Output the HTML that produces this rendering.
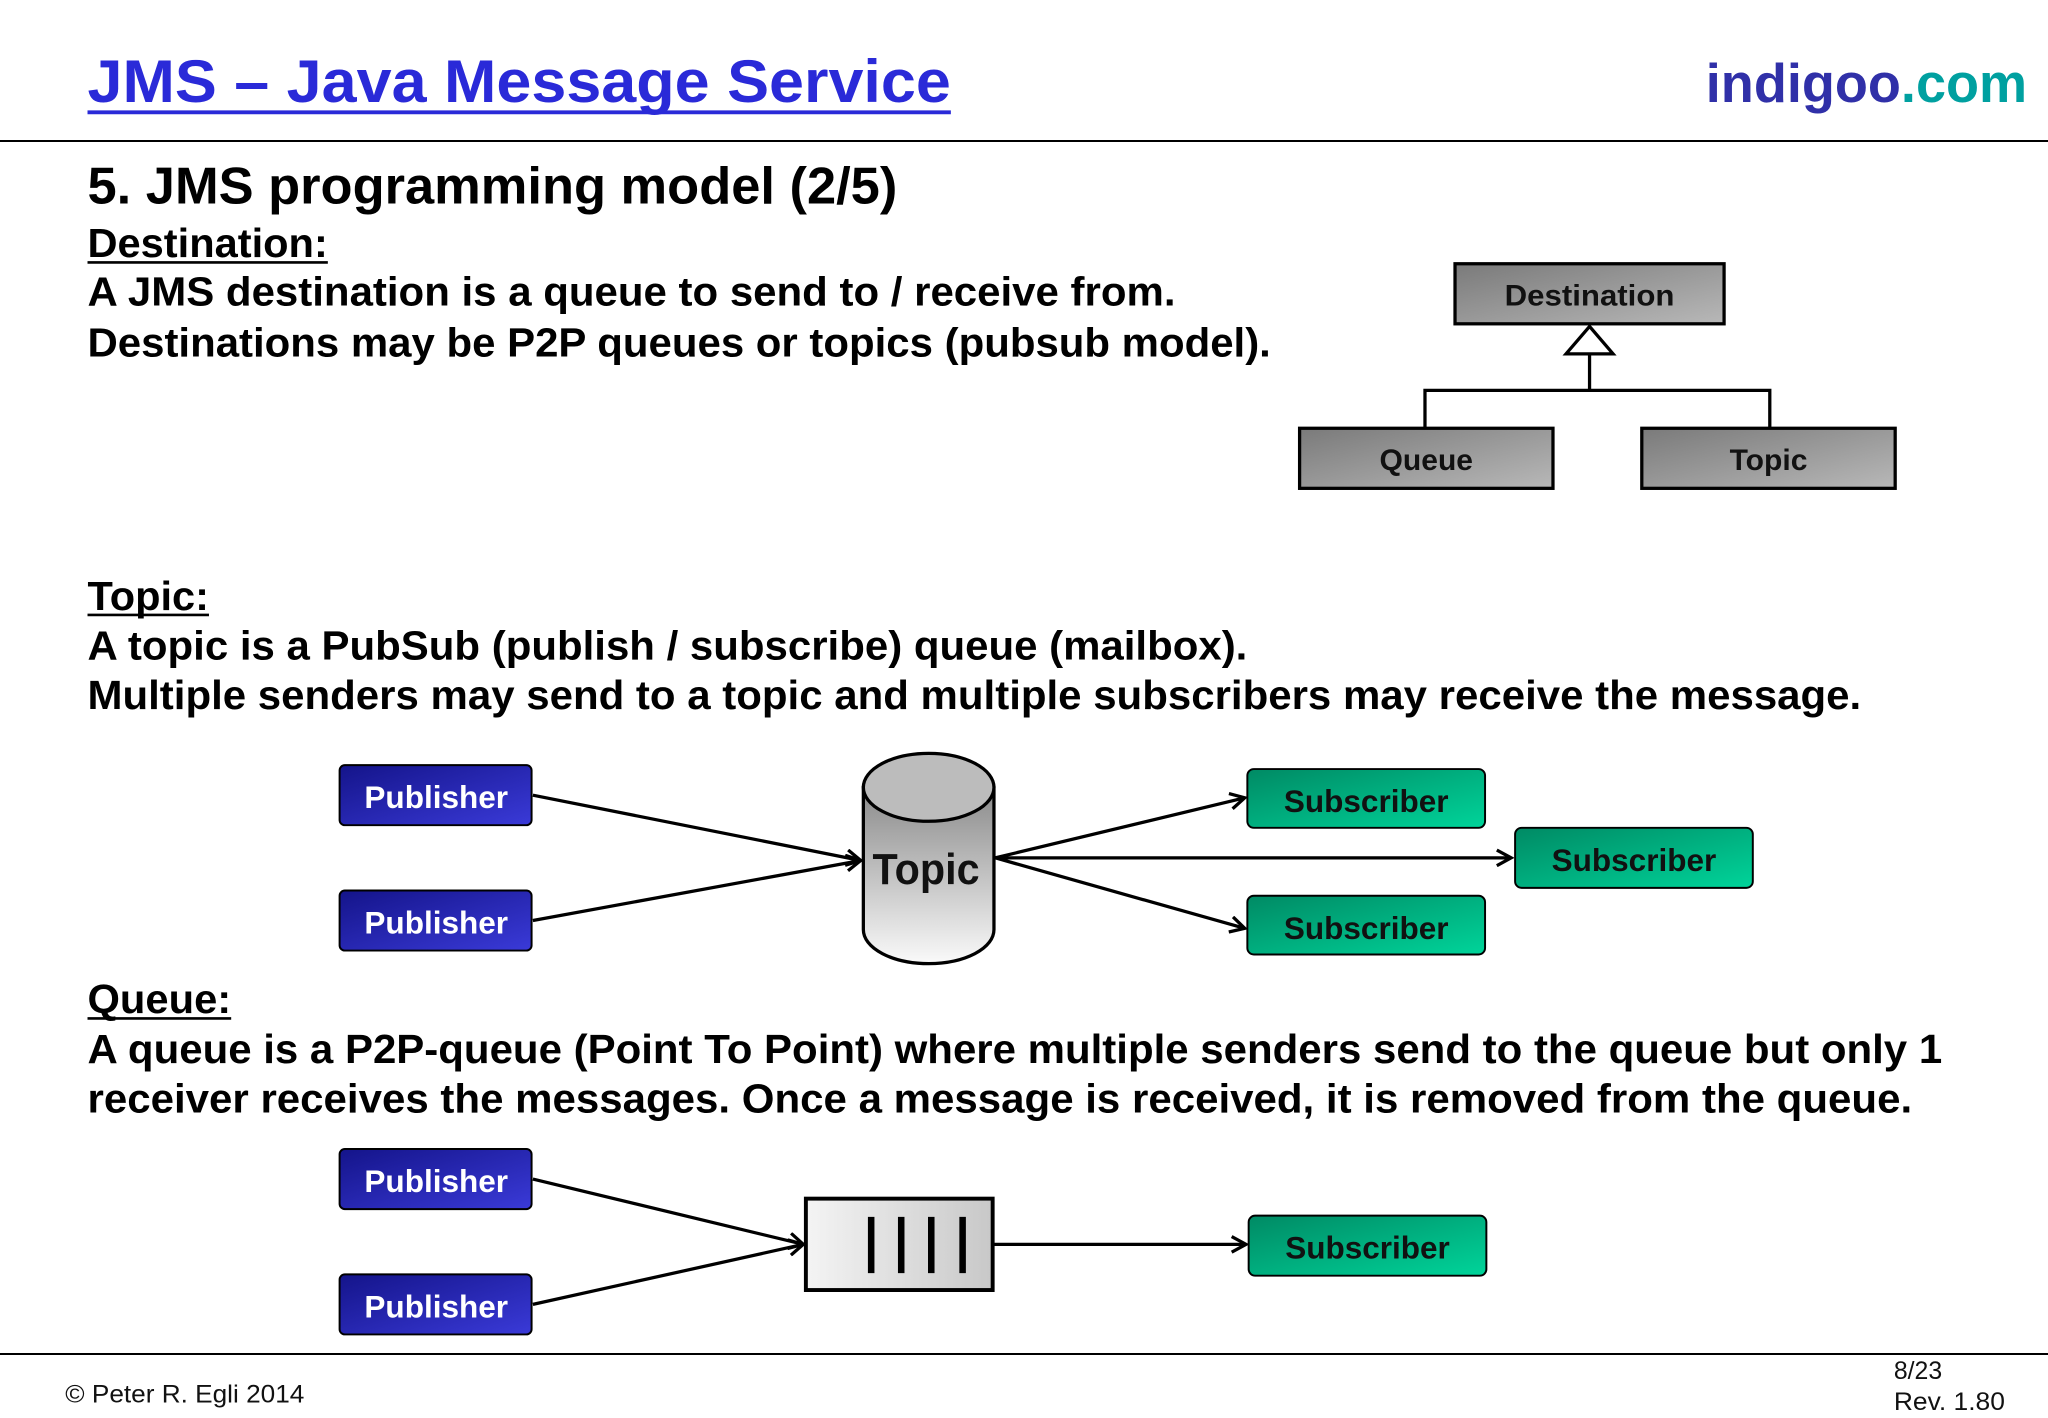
<!DOCTYPE html>
<html><head><meta charset="utf-8"><style>html,body{margin:0;padding:0;background:#fff}svg{display:block}</style></head>
<body>
<svg width="2048" height="1418" viewBox="0 0 1568 1086" preserveAspectRatio="none" xmlns="http://www.w3.org/2000/svg" font-family="Liberation Sans, Arial, sans-serif" font-weight="bold">
<defs>
<linearGradient id="gr" x1="0" y1="0" x2="1" y2="1"><stop offset="0" stop-color="#7a7a7a"/><stop offset="1" stop-color="#b8b8b8"/></linearGradient>
<linearGradient id="bl" x1="0" y1="0" x2="1" y2="1"><stop offset="0" stop-color="#14148a"/><stop offset="1" stop-color="#3a3ad8"/></linearGradient>
<linearGradient id="gn" x1="0" y1="0" x2="1" y2="1"><stop offset="0" stop-color="#008a64"/><stop offset="1" stop-color="#00d49a"/></linearGradient>
<linearGradient id="cy" x1="0" y1="0" x2="0" y2="1"><stop offset="0" stop-color="#8a8a8a"/><stop offset="1" stop-color="#fafafa"/></linearGradient>
<linearGradient id="qb" x1="0" y1="0" x2="1" y2="0"><stop offset="0" stop-color="#f4f4f4"/><stop offset="1" stop-color="#c8c8c8"/></linearGradient>
<marker id="ar" markerWidth="14" markerHeight="14" refX="12" refY="7" orient="auto" markerUnits="userSpaceOnUse"><path d="M1,1 L12,7 L1,13" fill="none" stroke="#000" stroke-width="2.5"/></marker>
</defs>
<text x="67" y="78" font-size="46" fill="#2a2ad8" textLength="661" lengthAdjust="spacingAndGlyphs">JMS – Java Message Service</text>
<line x1="67" y1="86" x2="728" y2="86" stroke="#2a2ad8" stroke-width="3"/>
<text x="1552" y="78" font-size="42" text-anchor="end" textLength="246" lengthAdjust="spacingAndGlyphs"><tspan fill="#3030a8">indigoo</tspan><tspan fill="#00a0a0">.com</tspan></text>
<line x1="0" y1="108" x2="1568" y2="108" stroke="#000" stroke-width="1.5"/>
<text x="67" y="156" font-size="40" fill="#000" textLength="620" lengthAdjust="spacingAndGlyphs">5. JMS programming model (2/5)</text>
<g font-size="31" fill="#000" lengthAdjust="spacingAndGlyphs">
<text x="67" y="197" textLength="184" lengthAdjust="spacingAndGlyphs">Destination:</text><line x1="67" y1="201" x2="251" y2="201" stroke="#000" stroke-width="2"/>
<text x="67" y="234" textLength="833" lengthAdjust="spacingAndGlyphs">A JMS destination is a queue to send to / receive from.</text>
<text x="67" y="273" textLength="906" lengthAdjust="spacingAndGlyphs">Destinations may be P2P queues or topics (pubsub model).</text>
<text x="67" y="467" textLength="93" lengthAdjust="spacingAndGlyphs">Topic:</text><line x1="67" y1="471" x2="160" y2="471" stroke="#000" stroke-width="2"/>
<text x="67" y="505" textLength="888" lengthAdjust="spacingAndGlyphs">A topic is a PubSub (publish / subscribe) queue (mailbox).</text>
<text x="67" y="543" textLength="1358" lengthAdjust="spacingAndGlyphs">Multiple senders may send to a topic and multiple subscribers may receive the message.</text>
<text x="67" y="776" textLength="110" lengthAdjust="spacingAndGlyphs">Queue:</text><line x1="67" y1="780" x2="177" y2="780" stroke="#000" stroke-width="2"/>
<text x="67" y="814" textLength="1420" lengthAdjust="spacingAndGlyphs">A queue is a P2P-queue (Point To Point) where multiple senders send to the queue but only 1</text>
<text x="67" y="852" textLength="1397" lengthAdjust="spacingAndGlyphs">receiver receives the messages. Once a message is received, it is removed from the queue.</text>
</g>
<g stroke="#000" stroke-width="2.5">
<rect x="1114" y="202" width="206" height="46" fill="url(#gr)"/>
<rect x="995" y="328" width="194" height="46" fill="url(#gr)"/>
<rect x="1257" y="328" width="194" height="46" fill="url(#gr)"/>
<polyline points="1091,327 1091,299 1355,299 1355,327" fill="none"/>
<line x1="1217" y1="299" x2="1217" y2="271"/>
<polygon points="1217,250 1199,271 1235,271" fill="#fff"/>
</g>
<g font-size="23" fill="#111" text-anchor="middle">
<text x="1217" y="234" textLength="130" lengthAdjust="spacingAndGlyphs">Destination</text><text x="1092" y="360">Queue</text><text x="1354" y="360">Topic</text>
</g>
<g stroke="#000" stroke-width="2.5" fill="none" marker-end="url(#ar)">
<line x1="408" y1="609" x2="659" y2="659"/>
<line x1="408" y1="705" x2="659" y2="659"/>
<line x1="762" y1="657" x2="953" y2="611"/>
<line x1="762" y1="657" x2="1157" y2="657"/>
<line x1="762" y1="657" x2="953" y2="711"/>
<line x1="408" y1="903" x2="615" y2="953"/>
<line x1="408" y1="999" x2="615" y2="953"/>
<line x1="761" y1="953" x2="954" y2="953"/>
</g>
<path d="M661,603 L661,712 A50,26 0 0 0 761,712 L761,603 Z" fill="url(#cy)" stroke="#000" stroke-width="2.5"/>
<ellipse cx="711" cy="603" rx="50" ry="26" fill="#bcbcbc" stroke="#000" stroke-width="2.5"/>
<text x="709" y="677" font-size="33" text-anchor="middle" fill="#111" textLength="82" lengthAdjust="spacingAndGlyphs">Topic</text>
<rect x="617" y="918" width="143" height="70" fill="url(#qb)" stroke="#000" stroke-width="3"/>
<g stroke="#000" stroke-width="5"><line x1="667" y1="932" x2="667" y2="975"/><line x1="690" y1="932" x2="690" y2="975"/><line x1="713" y1="932" x2="713" y2="975"/><line x1="737" y1="932" x2="737" y2="975"/></g>
<g stroke="#000" stroke-width="1.5">
<rect x="260" y="586" width="147" height="46" rx="4" fill="url(#bl)"/>
<rect x="260" y="682" width="147" height="46" rx="4" fill="url(#bl)"/>
<rect x="260" y="880" width="147" height="46" rx="4" fill="url(#bl)"/>
<rect x="260" y="976" width="147" height="46" rx="4" fill="url(#bl)"/>
<rect x="955" y="589" width="182" height="45" rx="5" fill="url(#gn)"/>
<rect x="1160" y="634" width="182" height="46" rx="5" fill="url(#gn)"/>
<rect x="955" y="686" width="182" height="45" rx="5" fill="url(#gn)"/>
<rect x="956" y="931" width="182" height="46" rx="5" fill="url(#gn)"/>
</g>
<g font-size="24" fill="#fff" text-anchor="middle">
<text x="334" y="619" textLength="110" lengthAdjust="spacingAndGlyphs">Publisher</text><text x="334" y="715" textLength="110" lengthAdjust="spacingAndGlyphs">Publisher</text><text x="334" y="913" textLength="110" lengthAdjust="spacingAndGlyphs">Publisher</text><text x="334" y="1009" textLength="110" lengthAdjust="spacingAndGlyphs">Publisher</text>
</g>
<g font-size="24" fill="#111" text-anchor="middle">
<text x="1046" y="622" textLength="126" lengthAdjust="spacingAndGlyphs">Subscriber</text><text x="1251" y="667" textLength="126" lengthAdjust="spacingAndGlyphs">Subscriber</text><text x="1046" y="719" textLength="126" lengthAdjust="spacingAndGlyphs">Subscriber</text><text x="1047" y="964" textLength="126" lengthAdjust="spacingAndGlyphs">Subscriber</text>
</g>
<line x1="0" y1="1037" x2="1568" y2="1037" stroke="#000" stroke-width="1.5"/>
<g font-weight="normal" font-size="19" fill="#111">
<text x="50" y="1074" textLength="183" lengthAdjust="spacingAndGlyphs">© Peter R. Egli 2014</text>
<text x="1450" y="1056">8/23</text>
<text x="1450" y="1080" textLength="85" lengthAdjust="spacingAndGlyphs">Rev. 1.80</text>
</g>
</svg>
</body></html>
